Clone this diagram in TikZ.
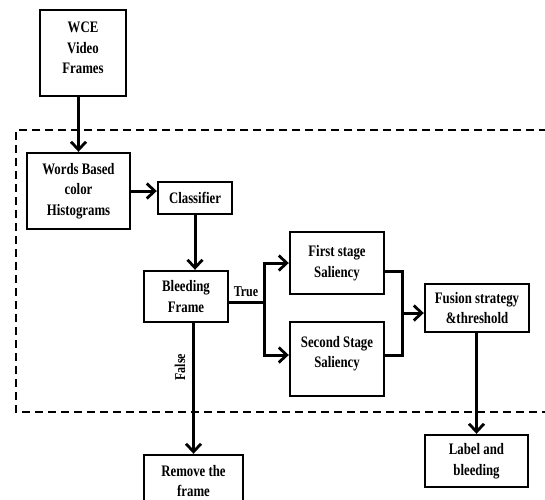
\documentclass[tikz,border=0pt]{standalone}
\usepackage{fontspec}
\setmainfont{Liberation Serif}[FakeStretch=0.8]
\usetikzlibrary{arrows.meta}
\begin{document}
\begin{tikzpicture}[x=1pt,y=-1pt,
  box/.style={draw,line width=2.4pt,rectangle,inner sep=0pt,align=center,
    font=\fontsize{16}{20.5}\selectfont\bfseries},
  conn/.style={line width=3pt},
  arr/.style={conn,-{Straight Barb[length=8pt,width=15pt,line width=2.8pt]}},
  lbl/.style={font=\fontsize{15}{17}\selectfont\bfseries,inner sep=0pt},
  frame/.style={line width=2pt,dash pattern=on 8pt off 5pt}]
\useasboundingbox (0,0) rectangle (545,499);
\clip (0,0) rectangle (545,499);
\draw[frame] (560,130) -- (16,130) -- (16,412) -- (560,412);
\node[box,minimum width=86pt,minimum height=86pt] (wce) at (83,53) {WCE\\Video\\Frames\\[-10pt]};
\node[box,minimum width=103pt,minimum height=76pt] (words) at (78.5,191) {Words Based\\color\\Histograms};
\node[box,minimum width=74pt,minimum height=32pt] (cls) at (195,198) {Classifier};
\node[box,minimum width=84pt,minimum height=51pt] (bleed) at (186,296.5) {Bleeding\\Frame};
\node[box,minimum width=94pt,minimum height=62pt] (first) at (337,263) {First stage\\Saliency};
\node[box,minimum width=94pt,minimum height=74pt] (second) at (337,359) {Second Stage\\Saliency\\[-6pt]};
\node[box,minimum width=104pt,minimum height=48pt] (fusion) at (477,308) {Fusion strategy\\\&threshold};
\node[box,minimum width=103pt,minimum height=52pt] (label) at (476.5,461) {Label and\\bleeding};
\node[box,minimum width=99pt,minimum height=52pt] (remove) at (193.5,481) {Remove the\\frame};
\coordinate (j1) at (264,302);
\coordinate (j2) at (402,271);
\coordinate (j3) at (402,355);
\coordinate (jm) at (402,313);
\draw[arr] (wce.south -| words.north) -- (words.north);
\draw[arr] (words.east) -- (words.east -| cls.west);
\draw[arr] (cls.south) -- (cls.south |- bleed.north);
\draw[conn] (bleed.east |- j1) -- (j1);
\draw[arr] (j1) |- (first.west);
\draw[arr] (j1) |- (j3 -| second.west);
\draw[conn] (j2 -| first.east) -- (j2) -- (j3) -- (j3 -| second.east);
\draw[arr] (jm) -- (jm -| fusion.west);
\draw[arr] (fusion.south -| label.north) -- (label.north);
\draw[arr] (remove.north |- bleed.south) -- (remove.north);
\node[lbl] (true) at (246,292) {True};
\node[lbl,rotate=90] (false) at (180,367) {False};
\end{tikzpicture}
\end{document}
